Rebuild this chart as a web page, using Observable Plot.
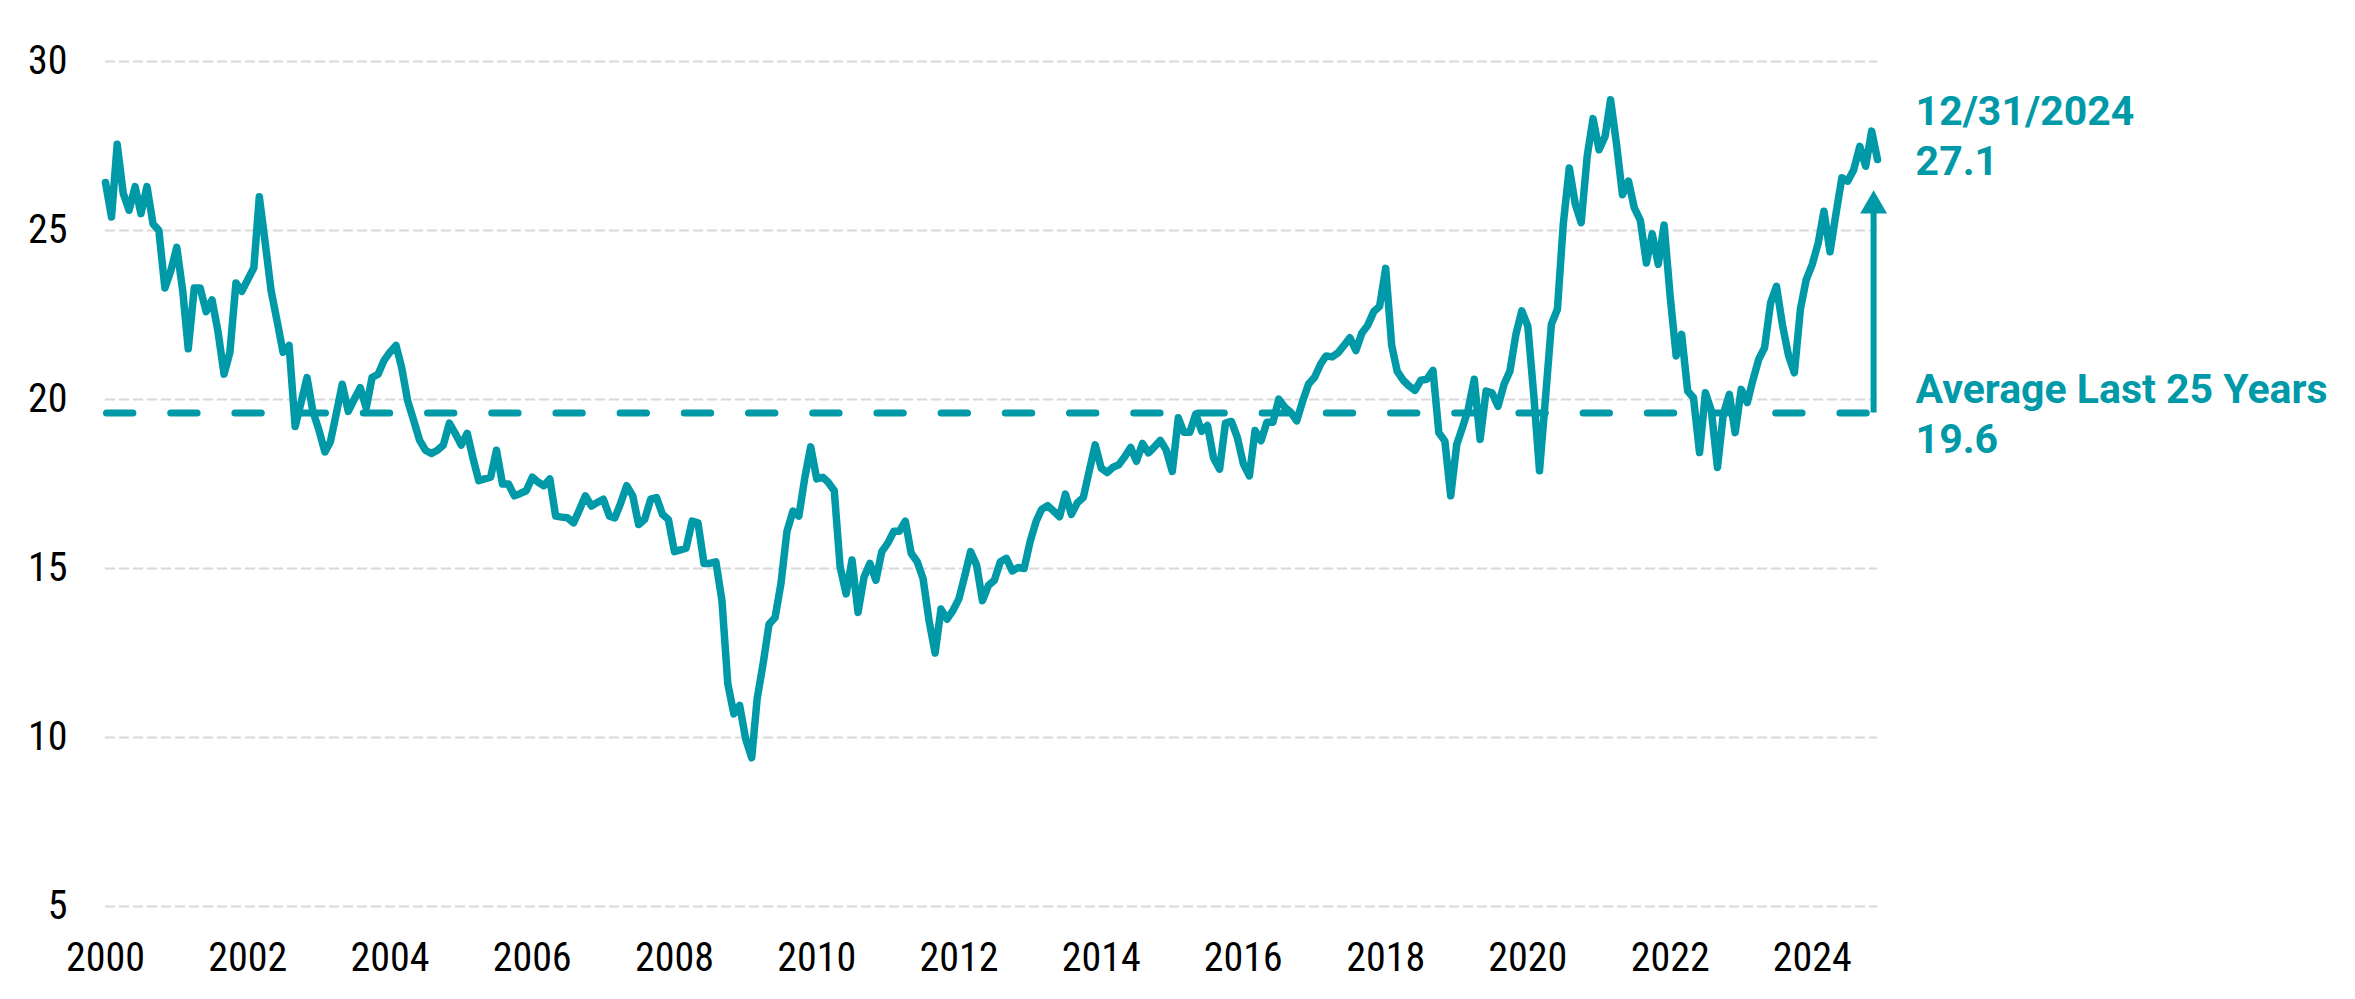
<!DOCTYPE html>
<html>
<head>
<meta charset="utf-8">
<script src="https://cdn.jsdelivr.net/npm/d3@7"></script>
<script src="https://cdn.jsdelivr.net/npm/@observablehq/plot@0.6"></script>
<style>
  html, body { margin: 0; padding: 0; background: #ffffff; }
  #chart { width: 2355px; height: 999px; }
</style>
</head>
<body>
<div id="chart"></div>
<script>
// ---------- data (monthly, Jan 2000 – Dec 2024) ----------
const startYear = 2000;
const peValues = [
  // 2000
  26.42, 25.4, 27.55, 26.1, 25.6, 26.3, 25.5, 26.3, 25.2, 25.0, 23.3, 23.8,
  // 2001
  24.5, 23.2, 21.5, 23.3, 23.3, 22.6, 22.95, 22.0, 20.75, 21.4, 23.45, 23.2,
  // 2002
  23.55, 23.9, 26.0, 24.6, 23.2, 22.3, 21.4, 21.6, 19.2, 19.9, 20.65, 19.65,
  // 2003
  19.1, 18.45, 18.75, 19.6, 20.45, 19.65, 20.0, 20.35, 19.75, 20.65, 20.75, 21.15,
  // 2004
  21.4, 21.6, 20.95, 19.96, 19.4, 18.8, 18.5, 18.4, 18.5, 18.65, 19.3, 19.0,
  // 2005
  18.65, 19.0, 18.3, 17.6, 17.65, 17.7, 18.5, 17.5, 17.5, 17.15, 17.22, 17.3,
  // 2006
  17.7, 17.55, 17.45, 17.65, 16.55, 16.52, 16.5, 16.35, 16.75, 17.15, 16.85, 16.95,
  // 2007
  17.05, 16.55, 16.5, 16.95, 17.45, 17.15, 16.3, 16.45, 17.05, 17.1, 16.6, 16.45,
  // 2008
  15.5, 15.55, 15.6, 16.4, 16.35, 15.15, 15.15, 15.2, 14.05, 11.6, 10.7, 10.95,
  // 2009
  9.95, 9.4, 11.15, 12.2, 13.35, 13.55, 14.55, 16.1, 16.7, 16.55, 17.7, 18.6,
  // 2010
  17.65, 17.7, 17.55, 17.3, 15.05, 14.25, 15.25, 13.7, 14.75, 15.15, 14.65, 15.5,
  // 2011
  15.75, 16.1, 16.1, 16.4, 15.45, 15.2, 14.7, 13.45, 12.5, 13.8, 13.5, 13.75,
  // 2012
  14.1, 14.8, 15.5, 15.1, 14.05, 14.5, 14.65, 15.2, 15.3, 14.93, 15.03, 15.0,
  // 2013
  15.8, 16.4, 16.75, 16.86, 16.7, 16.53, 17.2, 16.6, 16.95, 17.1, 17.9, 18.66,
  // 2014
  17.97, 17.84, 17.99, 18.07, 18.3, 18.58, 18.17, 18.7, 18.42, 18.6, 18.79, 18.5,
  // 2015
  17.87, 19.46, 19.03, 19.03, 19.57, 19.06, 19.23, 18.27, 17.94, 19.3, 19.35, 18.88,
  // 2016
  18.1, 17.74, 19.08, 18.78, 19.33, 19.33, 20.01, 19.77, 19.62, 19.37, 19.96, 20.46,
  // 2017
  20.66, 21.05, 21.29, 21.26, 21.38, 21.6, 21.83, 21.45, 21.97, 22.2, 22.6, 22.76,
  // 2018
  23.88, 21.6, 20.84, 20.57, 20.4, 20.27, 20.57, 20.6, 20.86, 19.02, 18.77, 17.15,
  // 2019
  18.67, 19.2, 19.71, 20.6, 18.82, 20.25, 20.2, 19.8, 20.45, 20.84, 21.93, 22.62,
  // 2020
  22.17, 20.1, 17.89, 20.05, 22.22, 22.67, 25.18, 26.85, 25.77, 25.23, 27.2, 28.31,
  // 2021
  27.39, 27.79, 28.87, 27.54, 26.06, 26.46, 25.67, 25.3, 24.04, 24.9, 24.0, 25.16,
  // 2022
  23.06, 21.29, 21.93, 20.25, 20.05, 18.43, 20.2, 19.66, 17.99, 19.56, 20.15, 19.02,
  // 2023
  20.3, 19.91, 20.55, 21.19, 21.53, 22.86, 23.35, 22.2, 21.3, 20.79, 22.67, 23.55,
  // 2024
  24.0, 24.64, 25.57, 24.37, 25.47, 26.56, 26.46, 26.8, 27.49, 26.9, 27.94, 27.1
];
const yTicks = [5, 10, 15, 20, 25, 30];
const xTickYears = [2000, 2002, 2004, 2006, 2008, 2010, 2012, 2014, 2016, 2018, 2020, 2022, 2024];
const averageValue = 19.6;
const averageLabel = "Average Last 25 Years";
const latestLabel = "12/31/2024";
const latestValue = 27.1;

// ---------- build ----------
const data = peValues.map((v, i) => ({date: new Date(Date.UTC(startYear, i, 1)), value: v}));
const startDate = data[0].date;
const endDate = data[data.length - 1].date;
const arrowDate = new Date(Date.UTC(2024, 10, 11));
const teal = "#0099a8";
const tickFont = "'Liberation Sans Narrow', 'Roboto Condensed', 'Arial Narrow', 'DejaVu Sans Condensed', sans-serif";

const chart = Plot.plot({
  width: 2355,
  height: 999,
  marginTop: 61,
  marginBottom: 93,
  marginLeft: 105,
  marginRight: 478,
  style: {background: "#ffffff", fontFamily: tickFont, fontSize: "40px", color: "#000000", overflow: "visible"},
  x: {
    type: "utc",
    domain: [startDate, endDate],
    ticks: xTickYears.map(y => new Date(Date.UTC(y, 0, 1))),
    tickFormat: d => String(d.getUTCFullYear()),
    tickSize: 0,
    tickPadding: 36,
    label: null
  },
  y: {
    domain: [5, 30],
    ticks: yTicks,
    tickSize: 0,
    tickPadding: 38,
    label: null
  },
  marks: [
    Plot.ruleY(yTicks, {stroke: "#d9d9d9", strokeWidth: 2, strokeDasharray: "10,4"}),
    Plot.ruleY([averageValue], {
      x1: startDate, x2: arrowDate,
      stroke: teal, strokeWidth: 7, strokeDasharray: "26.4,37.8", strokeDashoffset: -1.5, strokeLinecap: "round"
    }),
    Plot.lineY(data, {x: "date", y: "value", stroke: teal, strokeWidth: 7.5, strokeLinejoin: "round", strokeLinecap: "round"}),
    Plot.ruleX([arrowDate], {y1: averageValue, y2: 25.8, stroke: teal, strokeWidth: 6}),
    Plot.dot([{d: arrowDate, v: 25.73}], {x: "d", y: "v", symbol: "triangle", r: 10, fill: teal, stroke: null}),
    Plot.text([{t: latestLabel + "\n" + latestValue}], {
      x: () => arrowDate, y: () => 26.64, text: "t", dx: 42,
      textAnchor: "start", lineAnchor: "bottom", lineHeight: 1.22,
      fill: teal, fontFamily: "Roboto, sans-serif", fontWeight: 700, fontSize: 41
    }),
    Plot.text([{t: averageLabel + "\n" + averageValue}], {
      x: () => arrowDate, y: () => 18.41, text: "t", dx: 42,
      textAnchor: "start", lineAnchor: "bottom", lineHeight: 1.22,
      fill: teal, fontFamily: "Roboto, sans-serif", fontWeight: 700, fontSize: 41
    })
  ]
});
document.getElementById("chart").appendChild(chart);
</script>
</body>
</html>
